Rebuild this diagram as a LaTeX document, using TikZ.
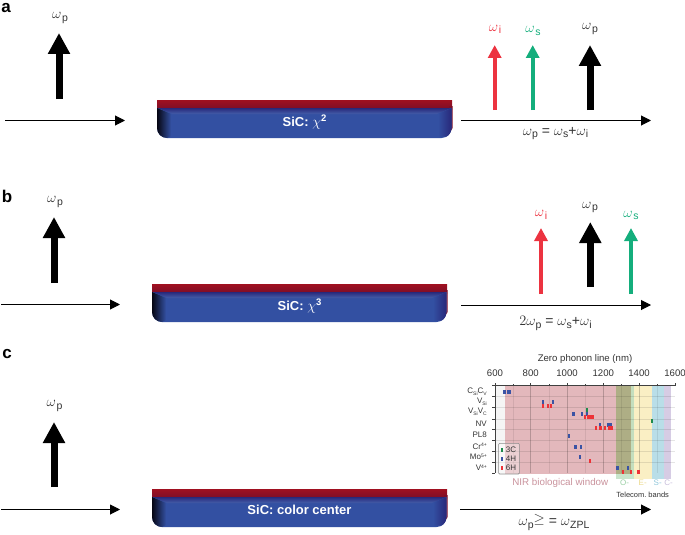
\documentclass[tikz,border=0pt]{standalone}
\usepackage{fontspec}
\setmainfont{Liberation Sans}
\usetikzlibrary{arrows.meta,calc}
\frenchspacing
\definecolor{wred}{HTML}{EC3340}
\definecolor{wgreen}{HTML}{14AE7C}
\definecolor{tx}{HTML}{333333}
\definecolor{sicred}{HTML}{A01020}
\definecolor{sicdark}{HTML}{7C0E28}
\definecolor{sicblue}{HTML}{3350A2}
\definecolor{sicnavy}{HTML}{28287A}
\definecolor{bpink}{HTML}{E3B8BC}
\definecolor{bolive}{HTML}{AEAE85}
\definecolor{bgreen}{HTML}{C4DEBE}
\definecolor{bgreenl}{HTML}{C9E5CC}
\definecolor{byellow}{HTML}{FAEFC4}
\definecolor{bblue}{HTML}{B9DEE8}
\definecolor{bpurple}{HTML}{D6CCE4}
\definecolor{tnir}{HTML}{C9929C}
\definecolor{to}{HTML}{9ACFA4}
\definecolor{te}{HTML}{EBD98C}
\definecolor{ts}{HTML}{8FC6DA}
\definecolor{tc}{HTML}{C7BCDA}
\definecolor{mb}{HTML}{3A53A4}
\definecolor{mr}{HTML}{ED3237}
\definecolor{mg}{HTML}{1E8A4C}
\newcommand{\fz}[1]{\fontsize{#1}{#1}\selectfont}
\newcommand{\wlab}[1]{$\omega$\kern0.6pt\raisebox{-2.6pt}{\fz{10.5}#1}}
\newcommand{\wsm}[1]{$\omega$\raisebox{-2.6pt}{\fz{10.5}#1}}
\newcommand{\sbb}[1]{\raisebox{-1.5pt}{\fz{5}#1}}
\newcommand{\spp}[1]{\raisebox{2.7pt}{\fz{5}#1}}
\newcommand{\sicblock}[5]{% name, x, y, text offset, text
  \begin{scope}[shift={(#2,#3)}]
    \shade[top color=sicred,bottom color=sicdark] (0,0) rectangle (295,9);
    \fill[sicdark] (292,6) -- (295.6,6) -- (295.6,28) -- (292,34) -- cycle;
    \fill[sicblue] (0,8) -- (294.5,8) -- (294.5,28) arc[start angle=0,end angle=90,radius=10] -- (10,38) arc[start angle=90,end angle=180,radius=10] -- cycle;
    \shade[top color=sicnavy,bottom color=sicblue!92!white] (1,8) -- (294,8) -- (280,14) -- (15,14) -- cycle;
    \shade[left color=black!85!sicnavy,middle color=sicnavy!60!sicblue,right color=sicblue] (0,8) -- (14,14) -- (14,36) -- (10,38) arc[start angle=90,end angle=180,radius=10] -- cycle;
    \shade[left color=sicblue,right color=sicnavy] (281,14) -- (294.5,8) -- (294.5,28) arc[start angle=0,end angle=60,radius=10] -- (281,36.5) -- cycle;
    \node[wtext] (#1) at (147.5,#4) {#5};
  \end{scope}}
\tikzset{
  x=1pt,y=-1pt,
  wtext/.style={text=white,font=\fz{13}\bfseries,inner sep=0pt},
  lab/.style={text=tx,font=\fz{14},inner sep=0pt},
  panel/.style={text=black,font=\fz{17}\bfseries,inner sep=0pt},
  beam/.style={line width=1pt,black,-{Triangle[length=10pt,width=10pt]}},
  pump/.style={line width=7pt,black,-{Triangle[length=21pt,width=21pt]}},
  thin arrow/.style={line width=4pt,-{Triangle[length=13pt,width=13pt]}},
  ylab/.style={lab,font=\fz{8},anchor=east},
  leg/.style={lab,font=\fz{8},anchor=west},
}
\newcommand{\mk}[3]{\fill[#1] (#2-3.5,#3-6) rectangle (#2+3.5,#3+6);}
\begin{document}
\begin{tikzpicture}
\useasboundingbox (0,0) rectangle (685,535);
% panel labels
\node[panel] (pa) at (6,8) {a};
\node[panel] (pb) at (7,196) {b};
\node[panel] (pc) at (7,354) {c};
% blocks
\sicblock{sa}{157}{100}{22.5}{SiC: {\fz{15}$\chi$}\raisebox{5pt}{\fz{9.5}2}}
\sicblock{sb}{152}{284}{22.5}{SiC: {\fz{15}$\chi$}\raisebox{5pt}{\fz{9.5}3}}
\sicblock{sc}{152}{489}{20.5}{SiC: color center}
% panel a
\node[lab] (awp) at (60,18) {\wlab{p}};
\coordinate (ap0) at (59,99); \coordinate (ap1) at (59,33);
\draw[pump] (ap0) -- (ap1);
\coordinate (ain0) at (5,120.5); \coordinate (ain1) at (125,120.5);
\draw[beam] (ain0) -- (ain1);
\coordinate (aout0) at (461,120.5); \coordinate (aout1) at (651,120.5);
\draw[beam] (aout0) -- (aout1);
\coordinate (ai0) at (494.7,110); \coordinate (ai1) at (494.7,45);
\coordinate (as0) at (532.7,110); \coordinate (as1) at (532.7,45);
\coordinate (apr0) at (590,110); \coordinate (apr1) at (590,45);
\draw[thin arrow,wred] (ai0) -- (ai1);
\draw[thin arrow,wgreen] (as0) -- (as1);
\draw[pump] (apr0) -- (apr1);
\node[lab,text=wred] (awi) at (495,29.5) {\wlab{i}};
\node[lab,text=wgreen] (aws) at (533,31) {\wlab{s}};
\node[lab] (awpr) at (590,29) {\wlab{p}};
\node[lab] (aeq) at (555.5,133.5) {\wsm{p} = \wsm{s}+\wsm{i}};
% panel b
\node[lab] (bwp) at (55,202) {\wlab{p}};
\coordinate (bp0) at (54,283); \coordinate (bp1) at (54,217);
\draw[pump] (bp0) -- (bp1);
\coordinate (bin0) at (1,304.5); \coordinate (bin1) at (120,304.5);
\draw[beam] (bin0) -- (bin1);
\coordinate (bout0) at (461,305); \coordinate (bout1) at (651,305);
\draw[beam] (bout0) -- (bout1);
\coordinate (bi0) at (541,294); \coordinate (bi1) at (541,228);
\coordinate (bs0) at (631,294); \coordinate (bs1) at (631,228);
\coordinate (bpr0) at (590.3,287); \coordinate (bpr1) at (590.3,222);
\draw[thin arrow,wred] (bi0) -- (bi1);
\draw[thin arrow,wgreen] (bs0) -- (bs1);
\draw[pump] (bpr0) -- (bpr1);
\node[lab,text=wred] (bwi) at (541,215) {\wlab{i}};
\node[lab,text=wgreen] (bws) at (631,215.5) {\wlab{s}};
\node[lab] (bwpr) at (590,207.5) {\wlab{p}};
\node[lab] (beq) at (555.5,323.5) {$2$\wsm{p} = \wsm{s}+\wsm{i}};
% panel c
\node[lab] (cwp) at (54.5,406) {\wlab{p}};
\coordinate (cp0) at (54,487); \coordinate (cp1) at (54,422);
\draw[pump] (cp0) -- (cp1);
\coordinate (cin0) at (1,509.5); \coordinate (cin1) at (120,509.5);
\draw[beam] (cin0) -- (cin1);
\coordinate (cout0) at (460,509.5); \coordinate (cout1) at (651,509.5);
\draw[beam] (cout0) -- (cout1);
\node[lab] (ceq) at (554,522.5) {\wsm{p}\raisebox{1.5pt}{$\geq$} = $\omega$\raisebox{-2.6pt}{\fz{10.5}ZPL}};
% chart (units: zoom pixels)
\begin{scope}[shift={(440,345)},x=0.33333pt,y=-0.33333pt]
  \fill[black!4] (165,122) rectangle (196,385);
  \fill[bpink] (196,122) rectangle (527,387);
  \fill[bolive] (527,122) rectangle (573,387);
  \fill[bgreenl] (527,387) rectangle (582,402);
  \fill[bgreen] (573,122) rectangle (582,387);
  \fill[byellow] (582,122) rectangle (637,402);
  \fill[bblue] (637,122) rectangle (672,402);
  \fill[bpurple] (672,122) rectangle (692,402);
  % grid
  \foreach \yy in {155,188,222,253,287,320,352} \draw[black,opacity=.10,line width=.5pt] (165,\yy) -- (705,\yy);
  \foreach \xx in {218.5,327,435.5,543.5,651.5} \draw[black,opacity=.08,line width=.5pt] (\xx,122) -- (\xx,385);
  \foreach \xx in {272,381,490,597} \draw[black,opacity=.20,line width=.6pt] (\xx,122) -- (\xx,385);
  % axes
  \draw[black!75,line width=.8pt] (705,122) -- (165,122) -- (165,385);
  \foreach \yy in {122,155,188,222,253,287,320,352,385} \draw[black!75,line width=.7pt] (157,\yy) -- (165,\yy);
  \foreach \xx in {165,272,381,490,597,705} \draw[black!75,line width=.7pt] (\xx,114) -- (\xx,122);
  \foreach \xx in {218.5,327,435.5,543.5,651.5} \draw[black!75,line width=.6pt] (\xx,118) -- (\xx,122);
  % axis labels
  \node[lab,font=\fz{9.6}] (xt) at (435,43) {Zero phonon line (nm)};
  \foreach \xx/\vv in {165/600,272/800,381/1000,490/1200,597/1400,705/1600}
    \node[lab,font=\fz{9.6}] (x\vv) at (\xx,86) {\vv};
  \node[ylab] (y1) at (141,140) {C\sbb{Si}C\sbb{V}};
  \node[ylab] (y2) at (141,170) {V\sbb{Si}};
  \node[ylab] (y3) at (141,201) {V\sbb{Si}V\sbb{C}};
  \node[ylab] (y4) at (141,235) {NV};
  \node[ylab] (y5) at (141,268) {PL8};
  \node[ylab] (y6) at (141,303) {Cr\spp{4+}};
  \node[ylab] (y7) at (141,335) {Mo\spp{5+}};
  \node[ylab] (y8) at (141,368) {V\spp{4+}};
  % markers
  \foreach \xx in {193,203,208} {\mk{mb}{\xx}{140}}
  \foreach \xx in {308,338} {\mk{mb}{\xx}{172}}
  \foreach \xx in {309,323,332} {\mk{mr}{\xx}{184}}
  \mk{mg}{440}{195}
  \foreach \xx in {398,402,425,440} {\mk{mb}{\xx}{206}}
  \foreach \xx in {435,443,450,457} {\mk{mr}{\xx}{216}}
  \mk{mg}{636}{228}
  \foreach \xx in {480,505,512} {\mk{mb}{\xx}{239}}
  \foreach \xx in {467,481,494,507,514} {\mk{mr}{\xx}{249}}
  \mk{mb}{387}{273}
  \foreach \xx in {406,422} {\mk{mb}{\xx}{305}}
  \mk{mb}{420}{336}
  \mk{mr}{449}{347}
  \foreach \xx in {532,563} {\mk{mb}{\xx}{369}}
  \foreach \xx in {548,573,595} {\mk{mr}{\xx}{380}}
  % legend
  \draw[black!45,line width=.6pt,fill=white,fill opacity=.35,rounded corners=1pt] (176,295) rectangle (238,387);
  \mk{mg}{186}{315}\mk{mb}{186}{342}\mk{mr}{186}{368}
  \node[leg] (l1) at (197,315) {3C};
  \node[leg] (l2) at (197,342) {4H};
  \node[leg] (l3) at (197,368) {6H};
  % bands
  \node[lab,font=\fz{9.8},text=tnir] (nir) at (361,413) {NIR biological window};
  \node[lab,font=\fz{8},text=to] (bo) at (554,413) {O-};
  \node[lab,font=\fz{8},text=te] (be) at (608,413) {E-};
  \node[lab,font=\fz{8},text=ts] (bs) at (653,413) {S-};
  \node[lab,font=\fz{8},text=tc] (bc) at (686,413) {C-};
  \node[lab,font=\fz{7.5},text=black!80] (tel) at (608,448) {Telecom. bands};
\end{scope}
\end{tikzpicture}
\end{document}
